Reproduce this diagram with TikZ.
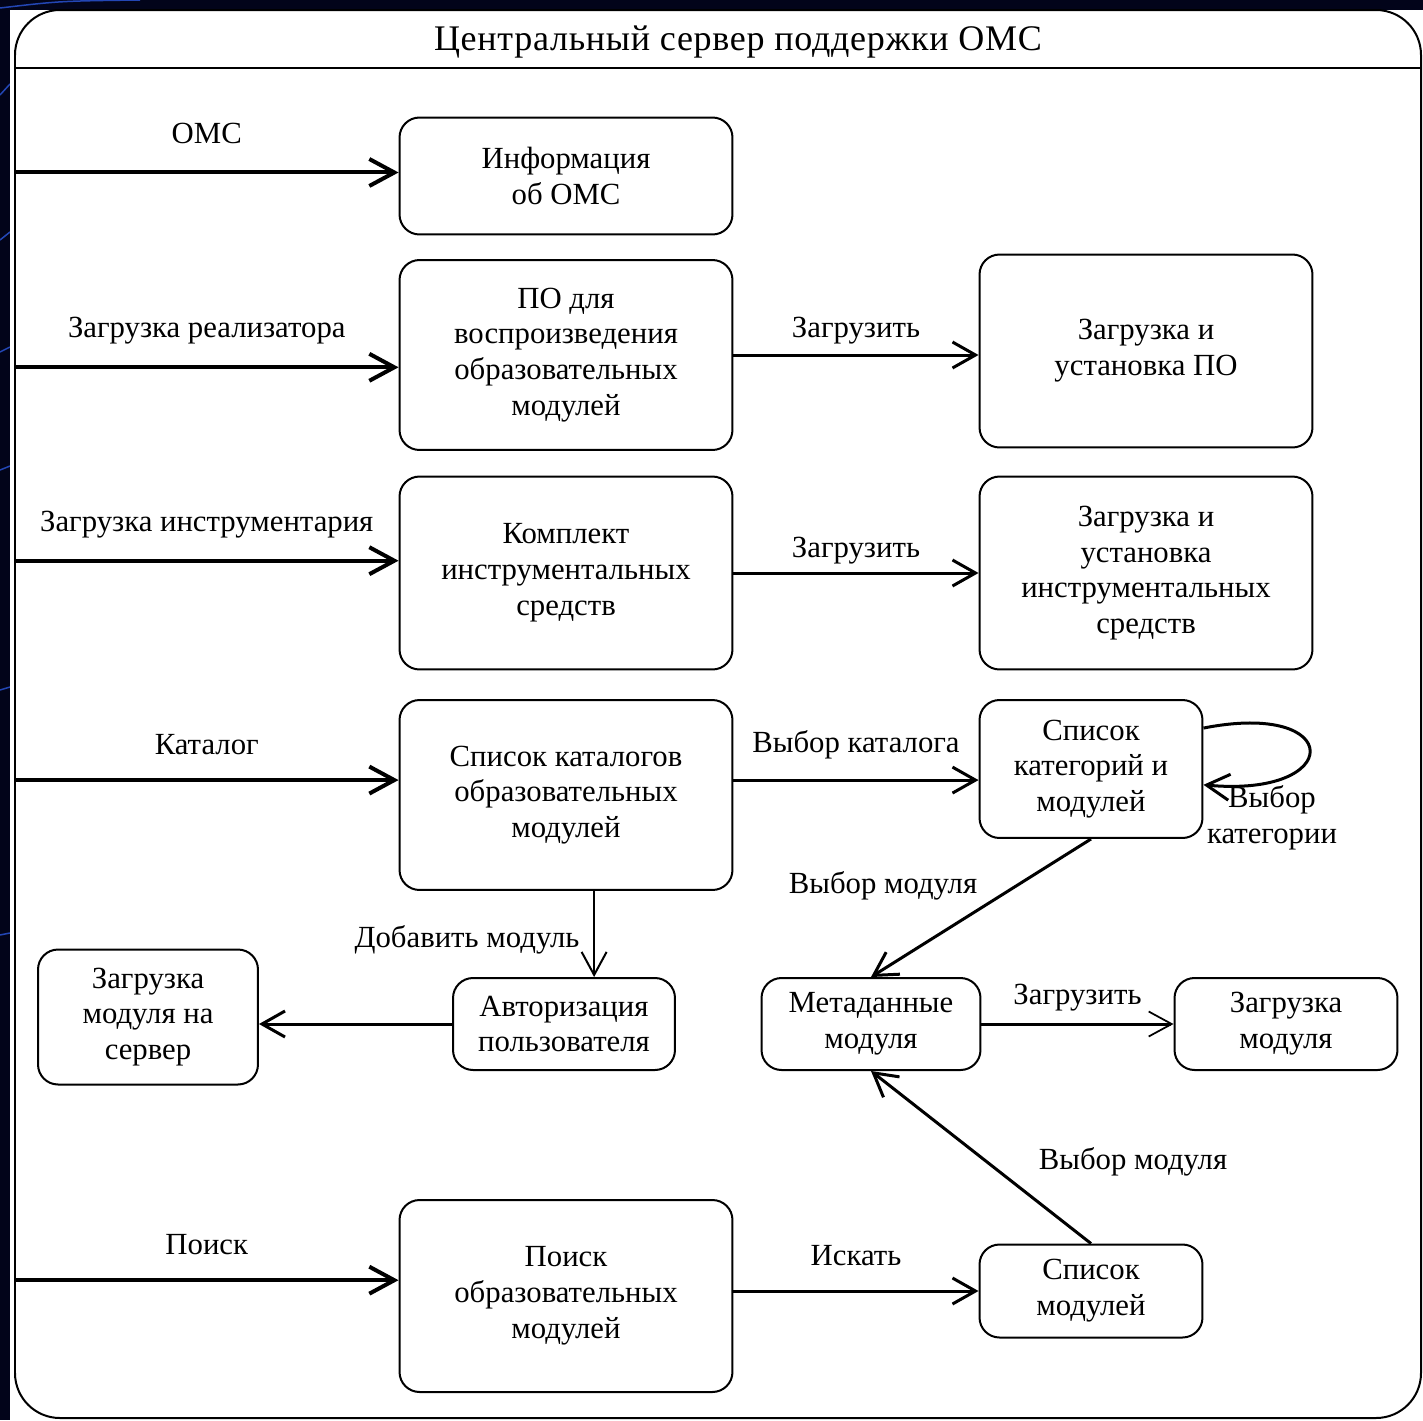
\documentclass[tikz,border=0pt]{standalone}
\usepackage{fontspec}
\setmainfont{Liberation Serif}
\usetikzlibrary{arrows.meta}
\definecolor{bgnavy}{RGB}{2,4,26}
\definecolor{bgblue}{RGB}{35,70,180}
\newcommand{\dgfont}{\fontsize{17.5}{20.4}\selectfont}
\tikzset{
	stbox/.style={draw, line width=0.4mm, rounded corners=0.4cm, align=center, inner sep=0pt, font=\dgfont},
	lbl/.style={inner sep=0pt, align=center, font=\dgfont},
	inarr/.style={line width=0.8mm, -{Straight Barb[length=5mm,width=5.4mm]}},
	midarr/.style={line width=0.6mm, -{Straight Barb[length=4.6mm,width=5.2mm]}},
	thinarr/.style={line width=0.4mm, -{Straight Barb[length=4.6mm,width=5mm]}}
}

\begin{document}
\begin{tikzpicture}[x=0.02cm, y=-0.02cm]
			%%%%% START %%%%%
			\useasboundingbox (0, 0) rectangle (1423, 1420);
			\fill[bgnavy] (0, 0) rectangle (1423, 1420);
			
			\draw[line width=0.3mm, color=bgblue] (0, 8) .. controls (60, 1) .. (140, 0);
			\draw[line width=0.3mm, color=bgblue] (0, 95) .. controls (5, 89) .. (10, 84);
			\draw[line width=0.3mm, color=bgblue] (0, 240) .. controls (5, 236) .. (10, 232);
			\draw[line width=0.3mm, color=bgblue] (0, 352) .. controls (5, 349) .. (10, 347);
			\draw[line width=0.3mm, color=bgblue] (0, 470) .. controls (5, 468) .. (10, 466);
			\draw[line width=0.3mm, color=bgblue] (0, 690) .. controls (5, 688) .. (10, 687);
			\draw[line width=0.3mm, color=bgblue] (0, 935) .. controls (5, 934) .. (10, 933);
			
			\fill[white] (10, 10) rectangle (1423, 1420);
			
			% frame and title
			\draw[line width=0.4mm, rounded corners=0.9cm] (15, 10) rectangle (1421, 1418);
			\draw[line width=0.4mm] (15, 68) -- (1421, 68);
			\node[lbl, font=\fontsize{20.5}{24}\selectfont\addfontfeatures{LetterSpace=2}] (title) at (738, 42) {Центральный сервер поддержки ОМС};
			\coordinate (lft) at (15, 0);
			
			% states
			\node[stbox, minimum width=6.66cm, minimum height=2.34cm] (info) at (566, 176) {Информация\\об ОМС};
			\node[stbox, minimum width=6.66cm, minimum height=3.8cm] (po) at (566, 355) {ПО для\\воспроизведения\\образовательных\\модулей};
			\node[stbox, minimum width=6.66cm, minimum height=3.86cm] (zpo) at (1146, 351) {Загрузка и\\установка ПО};
			\node[stbox, minimum width=6.66cm, minimum height=3.86cm] (kmp) at (566, 573) {Комплект\\инструментальных\\средств};
			\node[stbox, minimum width=6.66cm, minimum height=3.86cm] (zin) at (1146, 573) {Загрузка и\\установка\\инструментальных\\средств};
			\node[stbox, minimum width=6.66cm, minimum height=3.8cm] (kt) at (566, 795) {Список каталогов\\образовательных\\модулей};
			\node[stbox, minimum width=4.46cm, minimum height=2.76cm] (kat) at (1091, 769) {Список\\категорий и\\модулей};
			\node[stbox, minimum width=4.4cm, minimum height=2.7cm] (zs) at (148, 1017) {Загрузка\\модуля на\\сервер};
			\node[stbox, minimum width=4.44cm, minimum height=1.84cm] (avt) at (564, 1024) {Авторизация\\пользователя};
			\node[stbox, minimum width=4.38cm, minimum height=1.84cm] (meta) at (871, 1024) {Метаданные\\модуля};
			\node[stbox, minimum width=4.46cm, minimum height=1.84cm] (zm) at (1286, 1024) {Загрузка\\модуля};
			\node[stbox, minimum width=6.66cm, minimum height=3.84cm] (ps) at (566, 1296) {Поиск\\образовательных\\модулей};
			\node[stbox, minimum width=4.46cm, minimum height=1.86cm] (sm) at (1091, 1291) {Список\\модулей};
			
			% entries from the frame
			\coordinate (i-in) at ([yshift=2pt]info.west);
			\coordinate (p-in) at ([yshift=-7pt]po.west);
			\coordinate (k-in) at ([yshift=7pt]kmp.west);
			\coordinate (c-in) at ([yshift=8.5pt]kt.west);
			\coordinate (s-in) at ([yshift=9pt]ps.west);
			\draw[inarr] (i-in -| lft) -- (i-in) node[lbl, midway, yshift=22pt] (l-omc) {ОМС};
			\draw[inarr] (p-in -| lft) -- (p-in) node[lbl, midway, yshift=21pt] (l-real) {Загрузка реализатора};
			\draw[inarr] (k-in -| lft) -- (k-in) node[lbl, midway, yshift=20.5pt] (l-instr) {Загрузка инструментария};
			\draw[inarr] (c-in -| lft) -- (c-in) node[lbl, midway, yshift=20pt] (l-kat) {Каталог};
			\draw[inarr] (s-in -| lft) -- (s-in) node[lbl, midway, yshift=20pt] (l-poisk) {Поиск};
			
			% transitions
			\draw[midarr] (po.east) -- (po.east -| zpo.west) node[lbl, midway, yshift=14pt] (l-zag1) {Загрузить};
			\draw[midarr] (kmp.east) -- (kmp.east -| zin.west) node[lbl, midway, yshift=12.5pt] (l-zag2) {Загрузить};
			\coordinate (c-out) at ([yshift=8.5pt]kt.east);
			\draw[midarr] (c-out) -- (c-out -| kat.west) node[lbl, midway, yshift=20pt] (l-vkat) {Выбор каталога};
			\draw[midarr] (kat.20) .. controls (1345, 700) and (1345, 798) .. (kat.-8);
			\node[lbl] (l-vkateg) at (1272, 818) {Выбор\\категории};
			
			\draw[midarr] (kat.south) -- (meta.north);
			\node[lbl] (l-vmod1) at (883, 886) {Выбор модуля};
			
			\coordinate (a-top) at ([xshift=16pt]kt.south);
			\draw[thinarr] (a-top) -- (a-top |- avt.north);
			\node[lbl] (l-add) at (467, 940) {Добавить модуль};
			\draw[midarr] (avt.west) -- (avt.west -| zs.east);
			
			\draw[line width=0.6mm, -{Straight Barb[length=4.6mm,width=5mm,line width=0.35mm]}] (meta.east) -- (meta.east -| zm.west) node[lbl, midway, yshift=15pt] (l-zag3) {Загрузить};
			
			\draw[midarr] (ps.east |- sm.west) -- (sm.west) node[lbl, midway, yshift=20pt] (l-isk) {Искать};
			\draw[midarr] (sm.north) -- (meta.south);
			\node[lbl] (l-vmod2) at (1133, 1162) {Выбор модуля};
			
			%%%%% END %%%%%
\end{tikzpicture}
\end{document}
